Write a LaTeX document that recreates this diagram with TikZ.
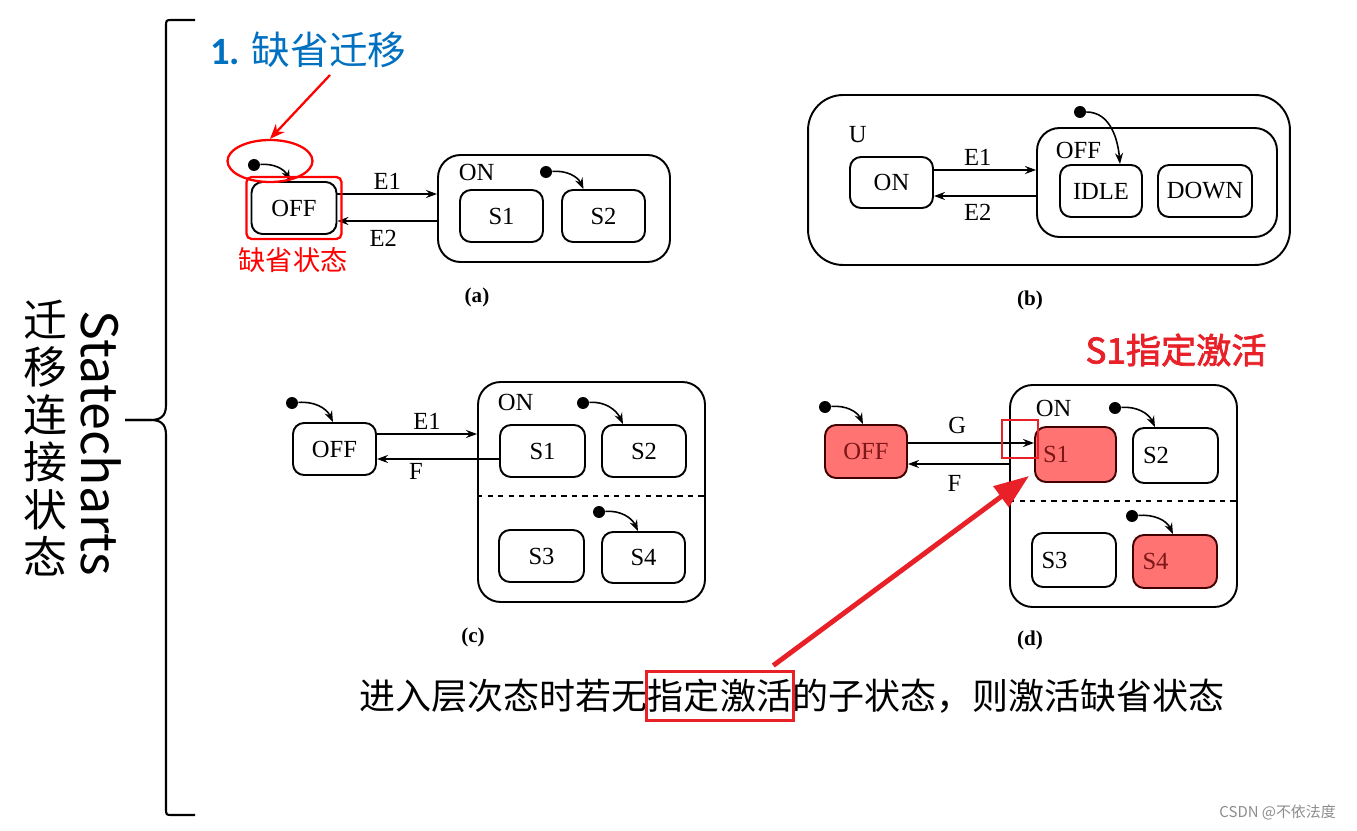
\documentclass[tikz,border=0pt]{standalone}
\usepackage{fontspec}
\setmainfont{Liberation Serif}
\newfontfamily\cjk{Noto Sans CJK SC}[AutoFakeBold=2]
\newfontfamily\carlito{Carlito}
\usetikzlibrary{arrows.meta,positioning,shapes.geometric,fit}
\definecolor{tblue}{RGB}{0,112,192}
\definecolor{mred}{RGB}{232,32,40}
\definecolor{hot}{RGB}{255,115,115}
\definecolor{hottext}{RGB}{125,22,22}

\begin{document}
\begin{tikzpicture}[x=0.02cm, y=-0.02cm,
    simple/.style={draw, line width=1.1pt, rounded corners=0.22cm, inner sep=0pt, font=\fontsize{14}{16}\selectfont},
    superst/.style={draw, line width=1.1pt, rounded corners=0.45cm, inner sep=0pt},
    hotst/.style={simple, fill=hot, text=hottext, draw=black!75!red},
    tlabel/.style={font=\fontsize{14}{16}\selectfont, inner sep=2pt},
    initdot/.style={circle, fill, inner sep=0pt, minimum size=0.24cm},
    trans/.style={-{Stealth[length=2.2mm,width=1.6mm]}, line width=0.9pt},
    caption/.style={font=\bfseries\fontsize{12}{14}\selectfont},
    cntext/.style={font=\cjk\fontsize{20.5}{24}\selectfont, inner sep=0pt}]
  \useasboundingbox (0,0) rectangle (1357,831);

  \draw[line width=1.2pt] (195,20) -- (172,20) .. controls (166,20) .. (166,27) -- (166,405)
    .. controls (166,417) and (160,420) .. (150,420) -- (125,420);
  \draw[line width=1.2pt] (125,420) -- (150,420) .. controls (160,420) and (166,423) .. (166,435)
    -- (166,808) .. controls (166,815) .. (172,815) -- (195,815);
  \node[rotate=-90, font=\cjk\fontsize{28.5}{30}\selectfont] (sc) at (101,443) {Statecharts};
  \node[font=\cjk\fontsize{25}{27}\selectfont, align=center] (scCn) at (45,438) {迁\\移\\连\\接\\状\\态};

  \node[anchor=west, text=tblue, font=\cjk\fontsize{22}{26}\selectfont, inner sep=0pt] (ttl) at (210,50) {{\carlito\bfseries 1.} 缺省迁移};

  % (a)
  \node[simple, minimum width=1.70cm, minimum height=1.04cm] (offA) at (294,208) {OFF};
  \node[superst, minimum width=4.64cm, minimum height=2.14cm] (onA) at (554,208.5) {};
  \node[tlabel, anchor=west] (onAl) at (455,172) {ON};
  \node[simple, minimum width=1.66cm, minimum height=1.04cm] (s1A) at (501.5,216) {S1};
  \node[simple, minimum width=1.66cm, minimum height=1.04cm] (s2A) at (603.5,216) {S2};
  \node[initdot] (iA0) at (254,165) {};
  \node[initdot] (iA1) at (546,172) {};
  \draw[trans] (iA0) to[out=5, in=115] ([xshift=-0.08cm]offA.north);
  \draw[trans] (iA1) to[out=5, in=115] ([xshift=-0.4cm]s2A.north);
  \draw[trans] ([yshift=0.28cm]offA.east) -- ([yshift=0.28cm]offA.east -| onA.west) node[tlabel, midway, above] (lA1) {E1};
  \draw[trans] ([yshift=-0.26cm]offA.east -| onA.west) -- ([yshift=-0.26cm]offA.east) node[tlabel, pos=0.54, below=3pt] (lA2) {E2};
  \node[caption] (capA) at (477,297) {(a)};
  \node[draw=red, line width=1.3pt, ellipse, minimum width=1.7cm, minimum height=0.84cm] (ellA) at (270,161) {};
  \node[draw=red, line width=1.3pt, rounded corners=0.1cm, fit=(offA), inner sep=0.08cm] (boxA) {};
  \node[text=red, font=\cjk\fontsize{15.5}{18}\selectfont] (dflA) at (293,260) {缺省状态};
  \coordinate (ttlTip) at (330,75);
  \draw[red, line width=1.3pt, -{Stealth[length=3mm,width=2.4mm]}] (ttlTip) -- (ellA.north);

  % (b)
  \node[superst, rounded corners=0.7cm, minimum width=9.64cm, minimum height=3.40cm] (uB) at (1049,180) {};
  \node[tlabel, anchor=west] (uBl) at (845,135) {U};
  \node[simple, minimum width=1.66cm, minimum height=1.02cm] (onB) at (891.5,182.5) {ON};
  \node[superst, minimum width=4.8cm, minimum height=2.18cm] (offB) at (1157,182.5) {};
  \node[tlabel, anchor=west] (offBl) at (1052,150) {OFF};
  \node[simple, minimum width=1.64cm, minimum height=1.04cm] (idleB) at (1101,191) {IDLE};
  \node[simple, minimum width=1.88cm, minimum height=1.04cm] (downB) at (1205,191) {DOWN};
  \node[initdot] (iB) at (1080,112) {};
  \draw[trans] (iB) to[out=0, in=95] ([xshift=0.38cm]idleB.north);
  \draw[trans] ([yshift=0.25cm]onB.east) -- ([yshift=0.25cm]onB.east -| offB.west) node[tlabel, pos=0.43, above] (lB1) {E1};
  \draw[trans] ([yshift=-0.27cm]onB.east -| offB.west) -- ([yshift=-0.27cm]onB.east) node[tlabel, pos=0.57, below=2pt] (lB2) {E2};
  \node[caption] (capB) at (1030,300) {(b)};

  % (c)
  \node[simple, minimum width=1.66cm, minimum height=1.04cm] (offC) at (334.5,449) {OFF};
  \node[superst, minimum width=4.54cm, minimum height=4.40cm] (onC) at (591.5,492) {};
  \node[tlabel, anchor=west] (onCl) at (494,402) {ON};
  \node[simple, minimum width=1.70cm, minimum height=1.04cm] (s1C) at (542.5,451) {S1};
  \node[simple, minimum width=1.68cm, minimum height=1.04cm] (s2C) at (644,451) {S2};
  \node[simple, minimum width=1.70cm, minimum height=1.04cm] (s3C) at (541.5,556) {S3};
  \node[simple, minimum width=1.66cm, minimum height=1.02cm] (s4C) at (643.5,557.5) {S4};
  \draw[dashed, line width=1.1pt] ([yshift=-0.08cm]onC.west) -- ([yshift=-0.08cm]onC.east);
  \node[initdot] (iC0) at (292,403) {};
  \node[initdot] (iC1) at (583,403) {};
  \node[initdot] (iC2) at (599,512) {};
  \draw[trans] (iC0) to[out=5, in=115] ([xshift=-0.03cm]offC.north);
  \draw[trans] (iC1) to[out=5, in=115] ([xshift=-0.42cm]s2C.north);
  \draw[trans] (iC2) to[out=5, in=115] ([xshift=-0.11cm]s4C.north);
  \draw[trans] ([yshift=0.3cm]offC.east) -- ([yshift=0.3cm]offC.east -| onC.west) node[tlabel, midway, above] (lC1) {E1};
  \draw[trans] ([yshift=-0.16cm]s1C.west) -- ([yshift=-0.16cm]s1C.west -| offC.east) node[tlabel, pos=0.68, below] (lC2) {F};
  \node[caption] (capC) at (473,637) {(c)};

  % (d)
  \node[hotst, minimum width=1.64cm, minimum height=1.06cm] (offD) at (866,451.5) {OFF};
  \node[superst, minimum width=4.54cm, minimum height=4.44cm] (onD) at (1123.5,496) {};
  \node[tlabel, anchor=west] (onDl) at (1032,408) {ON};
  \node[hotst, minimum width=1.62cm, minimum height=1.10cm, text width=1.3cm] (s1D) at (1075.5,454.5) {S1};
  \node[simple, minimum width=1.70cm, minimum height=1.10cm, text width=1.3cm] (s2D) at (1175.5,455.5) {S2};
  \node[simple, minimum width=1.68cm, minimum height=1.08cm, text width=1.3cm] (s3D) at (1074,560) {S3};
  \node[hotst, minimum width=1.68cm, minimum height=1.06cm, text width=1.3cm] (s4D) at (1175,561.5) {S4};
  \draw[dashed, line width=1.1pt] ([yshift=-0.1cm]onD.west) -- ([yshift=-0.1cm]onD.east);
  \node[initdot] (iD0) at (825,407) {};
  \node[initdot] (iD1) at (1115,408) {};
  \node[initdot] (iD2) at (1132,516) {};
  \draw[trans] (iD0) to[out=5, in=115] ([xshift=-0.06cm]offD.north);
  \draw[trans] (iD1) to[out=5, in=115] ([xshift=-0.41cm]s2D.north);
  \draw[trans] (iD2) to[out=5, in=115] ([xshift=-0.04cm]s4D.north);
  \draw[trans] ([yshift=0.17cm]offD.east) -- ([yshift=0.17cm]offD.east -| s1D.west) node[tlabel, pos=0.39, above=3pt] (lD1) {G};
  \draw[trans] ([yshift=-0.25cm]offD.east -| onD.west) -- ([yshift=-0.25cm]offD.east) node[tlabel, pos=0.54, below=4pt] (lD2) {F};
  \node[caption] (capD) at (1030,640) {(d)};
  \node[draw=mred, line width=1.5pt, minimum width=0.72cm, minimum height=0.76cm] (entD) at (1020,439) {};
  \node[text=mred, font=\cjk\bfseries\fontsize{20}{24}\selectfont] (actT) at (1176,350) {S1指定激活};

  \node[cntext] (keyTxt) at (720,696) {指定激活};
  \node[cntext, left=0pt of keyTxt] (preTxt) {进入层次态时若无};
  \node[cntext, right=0pt of keyTxt] (postTxt) {的子状态，则激活缺省状态};
  \node[draw=mred, line width=1.6pt, fit=(keyTxt), inner xsep=0.03cm, inner ysep=0.14cm] (keyBox) {};
  \draw[mred, line width=2.8pt, -{Triangle[length=0.7cm,width=0.5cm]}] ([xshift=-0.44cm,yshift=0.1cm]keyBox.north east) -- ([xshift=-0.1cm,yshift=0.14cm]s1D.south west);

  \node[text=black!45, font=\cjk\fontsize{8.5}{10}\selectfont, anchor=east] (wm) at (1342,812) {CSDN @不依法度};
\end{tikzpicture}
\end{document}
